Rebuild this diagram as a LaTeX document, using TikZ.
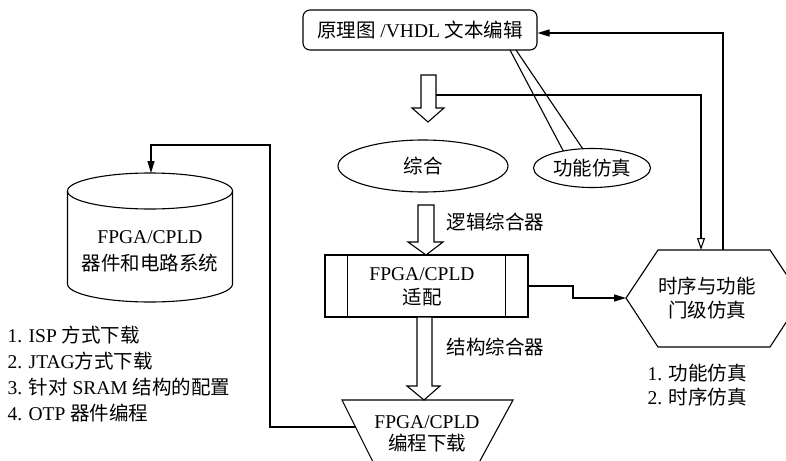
\documentclass[tikz,border=0pt]{standalone}
\usepackage{fontspec}
\setmainfont{Liberation Serif}
\newfontfamily\cjk{Noto Sans CJK SC}
\newcommand\zh[1]{{\cjk #1}}
\usetikzlibrary{arrows.meta,shapes.geometric}
\begin{document}
\begin{tikzpicture}[x=1pt,y=-1pt,line width=1.1pt,line join=miter,
  txt/.style={font=\fontsize{19.5}{24}\selectfont, inner sep=0pt, align=center},
  solidtip/.style={-{Triangle[length=12pt,width=7pt]}},
  opentip/.style={-{Triangle[open,length=12pt,width=8pt]}},
  blockarrow/.style={draw, fill=white}]
\useasboundingbox (0,0) rectangle (786,460);
\fill[white] (0,0) rectangle (786,460);
\clip (0,0) rectangle (786,460);

% top box
\node[draw, rounded corners=7pt, minimum width=234pt, minimum height=40pt, txt] (top) at (420,30) {\zh{原理图} /VHDL \zh{文本编辑}};

% callout wedge to functional simulation
\coordinate (w1) at (510,50);
\coordinate (w2) at (516,50);
\coordinate (w3) at (567,158);
\coordinate (w4) at (589,158);
\draw (w1) -- (w3);
\draw (w2) -- (w4);
\node[draw, ellipse, fill=white, minimum width=117pt, minimum height=39pt, txt] (fs) at (592,168) {\zh{功能仿真}};

% synthesis ellipse
\node[draw, ellipse, minimum width=170pt, minimum height=52pt, txt] (zh) at (423,166) {\zh{综合}};

% block arrow 1
\draw[blockarrow] (421,75) -- (436,75) -- (436,108) -- (444,108) -- (428,122) -- (412,108) -- (421,108) -- cycle;

% hexagon
\coordinate (hexW) at (626,298);
\coordinate (hexN1) at (701,250);
\coordinate (hexN2) at (723,250);
\draw (hexW) -- (658,250) -- (770,250) -- (802,298) -- (770,347) -- (658,347) -- cycle;
\node[txt] (hext) at (707,298) {\zh{时序与功能}\\\zh{门级仿真}};
\node[txt, anchor=west, align=left] (hlist) at (647,385) {1. \zh{功能仿真}\\2. \zh{时序仿真}};

% open arrow line from block arrow to hexagon
\coordinate (b1) at (436,95);
\draw[opentip] (b1) -- (701,95) -- (hexN1);

% feedback to top box
\draw[solidtip] (hexN2) |- ([yshift=-3pt]top.east);

% adaptation box
\node[draw, minimum width=203pt, minimum height=62pt] (fitbox) at (426.5,286) {};
\node[txt] (fitt) at (422,287) {FPGA/CPLD\\\zh{适配}};
\draw ([xshift=23pt]fitbox.north west) -- ([xshift=23pt]fitbox.south west);
\draw ([xshift=-23pt]fitbox.north east) -- ([xshift=-23pt]fitbox.south east);

% block arrow 2
\draw[blockarrow] (418,205) -- (434,205) -- (434,242) -- (443,242) -- (426,255) -- (408,242) -- (418,242) -- cycle;
\node[txt, anchor=west] (l1) at (446,222) {\zh{逻辑综合器}};

% adaptation -> hexagon
\draw[solidtip] (fitbox.east) -- (573,286) -- (573,298) -- (hexW);

% block arrow 3
\draw[blockarrow] (417,317) -- (432,317) -- (432,386) -- (440,386) -- (424,400) -- (407,386) -- (417,386) -- cycle;
\node[txt, anchor=west] (l2) at (446,347) {\zh{结构综合器}};

% trapezoid
\draw (342,400) -- (513,400) -- (475,470) -- (377,470) -- cycle;
\node[txt] (trapt) at (427,434) {FPGA/CPLD\\[-2pt]\zh{编程下载}};
\coordinate (trapW) at (356,427);

% cylinder
\draw[fill=white] (150,191) ellipse [x radius=82.5pt, y radius=18pt];
\draw (67.5,191) -- (67.5,284) arc[start angle=180, end angle=360, x radius=82.5pt, y radius=18pt] -- (232.5,191);
\node[txt] (cylt) at (150,251) {FPGA/CPLD\\[3pt]\zh{器件和电路系统}};
\coordinate (cylN) at (151,173);

% download -> device
\draw[solidtip] (trapW) -- (270,427) -- (270,145) -- (151,145) -- (cylN);

% left list
\node[txt, anchor=west, align=left, font=\fontsize{19.5}{26}\selectfont] (llist) at (7,374) {1. ISP \zh{方式下载}\\2. JTAG\zh{方式下载}\\3. \zh{针对} SRAM \zh{结构的配置}\\4. OTP \zh{器件编程}};
\end{tikzpicture}
\end{document}
